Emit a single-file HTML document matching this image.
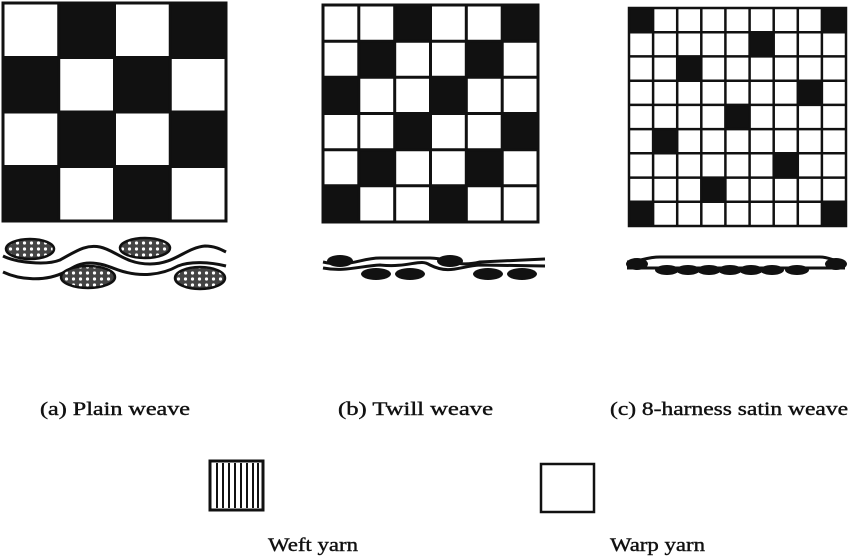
<!DOCTYPE html>
<html><head><meta charset="utf-8"><style>
html,body{margin:0;padding:0;background:#fff;}
svg{display:block;}
text{font-family:"Liberation Serif",serif;font-size:19px;fill:#111;stroke:#111;stroke-width:0.4;}
</style></head><body>
<svg width="850" height="559" viewBox="0 0 850 559" xmlns="http://www.w3.org/2000/svg">
<defs>
<pattern id="dots" width="7" height="6" patternUnits="userSpaceOnUse">
<rect width="7" height="6" fill="#444"/><circle cx="3.5" cy="3" r="1.6" fill="#fff"/>
</pattern>
</defs>
<!-- Plain -->
<g fill="#111">
<rect x="58.75" y="3" width="55.75" height="54.5"/><rect x="170.25" y="3" width="55.75" height="54.5"/>
<rect x="3" y="57.5" width="55.75" height="54.5"/><rect x="114.5" y="57.5" width="55.75" height="54.5"/>
<rect x="58.75" y="112" width="55.75" height="54.5"/><rect x="170.25" y="112" width="55.75" height="54.5"/>
<rect x="3" y="166.5" width="55.75" height="54.5"/><rect x="114.5" y="166.5" width="55.75" height="54.5"/>
</g>
<g stroke="#111" stroke-width="3" fill="none">
<rect x="3" y="3" width="223" height="218"/>
<path d="M58.75 3V221M114.5 3V221M170.25 3V221M3 57.5H226M3 112H226M3 166.5H226"/>
</g>
<!-- Twill -->
<g fill="#111">
<rect x="394.7" y="5" width="35.8" height="36.2"/><rect x="502.2" y="5" width="35.8" height="36.2"/>
<rect x="358.8" y="41.2" width="35.9" height="36.1"/><rect x="466.3" y="41.2" width="35.9" height="36.1"/>
<rect x="323" y="77.3" width="35.8" height="36.2"/><rect x="430.5" y="77.3" width="35.8" height="36.2"/>
<rect x="394.7" y="113.5" width="35.8" height="36.2"/><rect x="502.2" y="113.5" width="35.8" height="36.2"/>
<rect x="358.8" y="149.7" width="35.9" height="36.1"/><rect x="466.3" y="149.7" width="35.9" height="36.1"/>
<rect x="323" y="185.8" width="35.8" height="36.2"/><rect x="430.5" y="185.8" width="35.8" height="36.2"/>
</g>
<g stroke="#111" stroke-width="3" fill="none">
<rect x="323" y="5" width="215" height="217"/>
<path d="M358.8 5V222M394.7 5V222M430.5 5V222M466.3 5V222M502.2 5V222M323 41.2H538M323 77.3H538M323 113.5H538M323 149.7H538M323 185.8H538"/>
</g>
<!-- Satin -->
<g fill="#111">
<rect x="629" y="8" width="24.1" height="24.2"/><rect x="821.9" y="8" width="24.1" height="24.2"/>
<rect x="749.6" y="32.2" width="24.1" height="24.2"/>
<rect x="677.2" y="56.4" width="24.1" height="24.3"/>
<rect x="797.8" y="80.7" width="24.1" height="24.2"/>
<rect x="725.4" y="104.9" width="24.2" height="24.2"/>
<rect x="653.1" y="129.1" width="24.1" height="24.2"/>
<rect x="773.7" y="153.3" width="24.1" height="24.3"/>
<rect x="701.3" y="177.6" width="24.1" height="24.2"/>
<rect x="629" y="201.8" width="24.1" height="24.2"/><rect x="821.9" y="201.8" width="24.1" height="24.2"/>
</g>
<g stroke="#111" stroke-width="2.5" fill="none">
<rect x="629" y="8" width="217" height="218"/>
<path d="M653.1 8V226M677.2 8V226M701.3 8V226M725.4 8V226M749.6 8V226M773.7 8V226M797.8 8V226M821.9 8V226M629 32.2H846M629 56.4H846M629 80.7H846M629 104.9H846M629 129.1H846M629 153.3H846M629 177.6H846M629 201.8H846"/>
</g>
<!-- Plain cross-section -->
<g stroke="#111" stroke-width="3" fill="none">
<path d="M3 256 C15 262 45 266 60 260 C75 252 85 244 100 247 C115 250 125 264 150 264 C175 264 185 248 205 246 C215 246 222 250 226 252"/>
<path d="M3 272 C20 280 45 282 65 272 C75 266 80 263 90 263 C105 263 115 270 125 272 C140 276 160 276 178 266 C190 261 210 262 226 266"/>
</g>
<g fill="url(#dots)" stroke="#111" stroke-width="2.5">
<ellipse cx="30" cy="249" rx="24" ry="10"/><ellipse cx="145" cy="248" rx="25" ry="10"/>
<ellipse cx="88" cy="277" rx="27" ry="11"/><ellipse cx="200" cy="278" rx="25" ry="11"/>
</g>
<!-- Twill cross-section -->
<g stroke="#111" stroke-width="3" fill="none">
<path d="M323 262 C350 268 360 258 380 258 L430 258 C450 258 455 268 480 262 L545 259"/>
<path d="M323 268 C345 272 360 266 380 265 C410 268 420 258 430 265 C450 275 460 266 480 265 L545 266"/>
</g>
<g fill="#111">
<ellipse cx="340" cy="261" rx="13" ry="6"/><ellipse cx="450" cy="261" rx="13" ry="6"/>
<ellipse cx="376" cy="274" rx="15" ry="6"/><ellipse cx="410" cy="274" rx="15" ry="6"/>
<ellipse cx="488" cy="274" rx="15" ry="6"/><ellipse cx="522" cy="274" rx="15" ry="6"/>
</g>
<!-- Satin cross-section -->
<g stroke="#111" stroke-width="3" fill="none">
<path d="M627 262 C640 262 645 257 660 257 L820 257 C830 257 835 262 845 262"/>
<path d="M627 268 L845 268"/>
</g>
<g fill="#111">
<ellipse cx="637" cy="264" rx="11" ry="6"/><ellipse cx="836" cy="264" rx="11" ry="6"/>
<ellipse cx="667" cy="270" rx="12" ry="5"/><ellipse cx="688" cy="270" rx="12" ry="5"/>
<ellipse cx="709" cy="270" rx="12" ry="5"/><ellipse cx="730" cy="270" rx="12" ry="5"/>
<ellipse cx="751" cy="270" rx="12" ry="5"/><ellipse cx="772" cy="270" rx="12" ry="5"/>
<ellipse cx="797" cy="270" rx="12" ry="5"/>
</g>
<!-- Labels -->
<text x="40" y="415" textLength="150" lengthAdjust="spacingAndGlyphs">(a) Plain weave</text>
<text x="338" y="415" textLength="155" lengthAdjust="spacingAndGlyphs">(b) Twill weave</text>
<text x="610" y="415" textLength="238" lengthAdjust="spacingAndGlyphs">(c) 8-harness satin weave</text>
<!-- Legend -->
<rect x="210" y="461" width="53" height="49" fill="#fff" stroke="#111" stroke-width="3"/>
<path d="M217 463V508M223 463V508M229 463V508M235 463V508M241 463V508M247 463V508M253 463V508M258 463V508" stroke="#111" stroke-width="2"/>
<rect x="541" y="464" width="53" height="48" fill="#fff" stroke="#111" stroke-width="2.5"/>
<text x="268" y="551" textLength="90" lengthAdjust="spacingAndGlyphs">Weft yarn</text>
<text x="610" y="551" textLength="95" lengthAdjust="spacingAndGlyphs">Warp yarn</text>
</svg>
</body></html>
